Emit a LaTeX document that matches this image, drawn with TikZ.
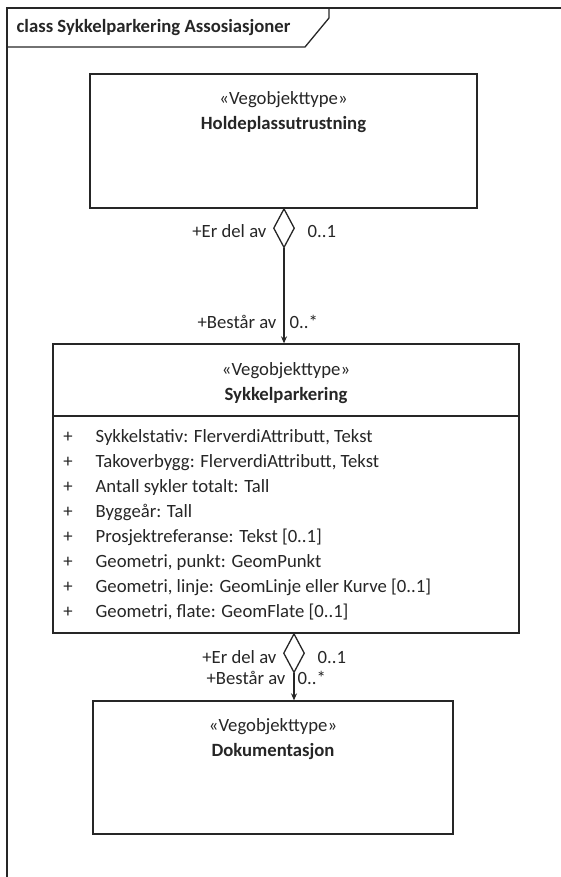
\documentclass[tikz,border=0pt]{standalone}
\usepackage{fontspec}
\setmainfont{Carlito}
\usepackage{tikz}
\usetikzlibrary{shapes.geometric,arrows.meta}

\begin{document}
\begin{tikzpicture}[
  x=1pt,y=-1pt,
  every node/.style={font=\fontsize{18.7}{23}\selectfont,inner sep=0pt},
  every path/.style={line width=1.3pt},
  color=black!85,
  classbox/.style={draw,rectangle,fill=white},
  cname/.style={font=\fontsize{18.7}{23}\selectfont\bfseries,anchor=base},
  stereo/.style={anchor=base},
  aggr/.style={draw,diamond,fill=white,minimum width=21pt,minimum height=39pt,anchor=north},
  role/.style={anchor=base east},
  mult/.style={anchor=base west},
  >={Stealth[length=7pt,width=6pt]}
]
\useasboundingbox (0,0) rectangle (561,877);
% frame
\draw (561,8) -- (7,8) -- (7,877);
\draw (7,47) -- (305,47) -- (329,18) -- (329,8);
\node[anchor=base west,font=\fontsize{18.7}{23}\selectfont\bfseries] (title) at (16,33)
  {class Sykkelparkering Assosiasjoner};

% classes
\node[classbox,minimum width=387pt,minimum height=134pt] (holde) at (283.5,141) {};
\node[stereo] (holdeS) at (283.5,105) {«Vegobjekttype»};
\node[cname] (holdeN) at (283.5,130) {Holdeplassutrustning};

\node[classbox,minimum width=466pt,minimum height=289pt] (sykkel) at (286,488.5) {};
\node[stereo] (sykkelS) at (286,375) {«Vegobjekttype»};
\node[cname] (sykkelN) at (286,400) {Sykkelparkering};
\draw (53,416) -- (519,416);
\foreach \txt [count=\i] in {
  {Sykkelstativ: FlerverdiAttributt, Tekst},
  {Takoverbygg: FlerverdiAttributt, Tekst},
  {Antall sykler totalt: Tall},
  {Byggeår: Tall},
  {Prosjektreferanse: Tekst [0..1]},
  {Geometri, punkt: GeomPunkt},
  {Geometri, linje: GeomLinje eller Kurve [0..1]},
  {Geometri, flate: GeomFlate [0..1]}} {
  \node[anchor=base] (plus\i) at (68,417+25*\i) {+};
  \node[anchor=base west] (attr\i) at (95,417+25*\i) {\txt};
}

\node[classbox,minimum width=360pt,minimum height=133pt] (doku) at (273,767.5) {};
\node[stereo] (dokuS) at (273,731) {«Vegobjekttype»};
\node[cname] (dokuN) at (273,756) {Dokumentasjon};

% associations
\node[aggr] (agg1) at (284,208) {};
\draw[->] (agg1.south) -- (agg1.south |- sykkel.north);
\node[role] (r1a) at (267,237) {+Er del av};
\node[mult] (m1a) at (307,237) {0..1};
\node[role] (r1b) at (277,328) {+Består av};
\node[mult] (m1b) at (289,328) {0..*};

\node[aggr] (agg2) at (294,633) {};
\draw[->] (agg2.south) -- (agg2.south |- doku.north);
\node[role] (r2a) at (277,663) {+Er del av};
\node[mult] (m2a) at (317,663) {0..1};
\node[role] (r2b) at (286,684) {+Består av};
\node[mult] (m2b) at (297,684) {0..*};
\end{tikzpicture}
\end{document}
